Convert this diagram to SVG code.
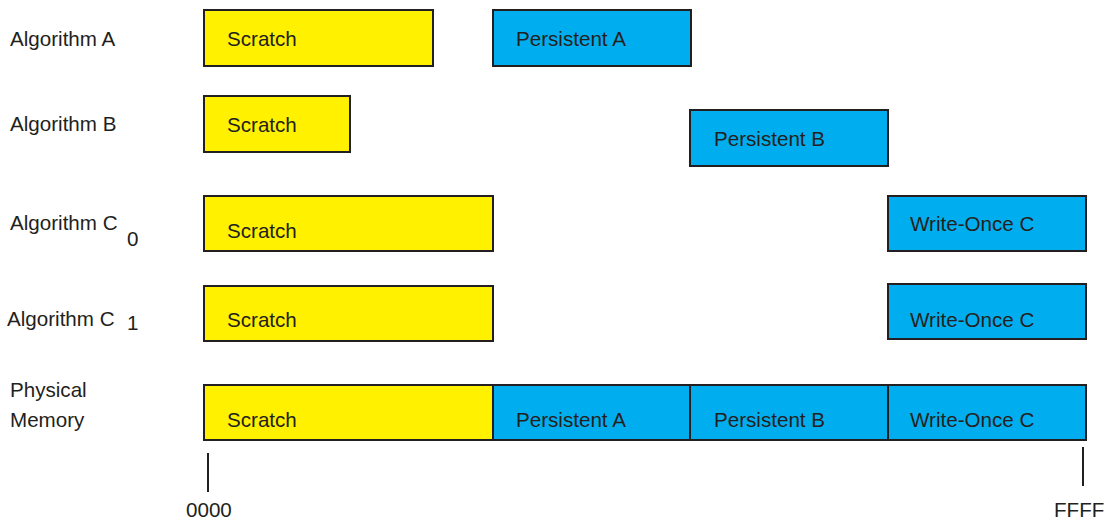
<svg xmlns="http://www.w3.org/2000/svg" width="1105" height="520" viewBox="0 0 1105 520">
<style>
text{font-family:"Liberation Sans",Arial,sans-serif;font-size:20.6px;fill:#231f20}
.y{fill:#fff100;stroke:#231f20;stroke-width:2}
.b{fill:#00aeef;stroke:#231f20;stroke-width:2}
.tick{stroke:#231f20;stroke-width:2}
</style>
<rect width="1105" height="520" fill="#ffffff"/>
<g id="labels">
<text x="10" y="46">Algorithm A</text>
<text x="10" y="131">Algorithm B</text>
<text x="10" y="230">Algorithm C</text>
<text x="127" y="246">0</text>
<text x="7" y="326">Algorithm C</text>
<text x="127" y="330">1</text>
<text x="10" y="397">Physical</text>
<text x="10" y="427">Memory</text>
</g>
<g id="algA-scratch"><rect class="y" x="204" y="10" width="229" height="56"/><text x="227" y="46">Scratch</text></g>
<g id="algA-persistent"><rect class="b" x="493" y="10" width="198" height="56"/><text x="516" y="46">Persistent A</text></g>
<g id="algB-scratch"><rect class="y" x="204" y="96" width="146" height="56"/><text x="227" y="132">Scratch</text></g>
<g id="algB-persistent"><rect class="b" x="690" y="110" width="198" height="56"/><text x="714" y="146">Persistent B</text></g>
<g id="algC0-scratch"><rect class="y" x="204" y="196" width="289" height="55"/><text x="227" y="238">Scratch</text></g>
<g id="algC0-writeonce"><rect class="b" x="888" y="196" width="198" height="55"/><text x="910" y="231">Write-Once C</text></g>
<g id="algC1-scratch"><rect class="y" x="204" y="286" width="289" height="55"/><text x="227" y="327">Scratch</text></g>
<g id="algC1-writeonce"><rect class="b" x="888" y="284" width="198" height="55"/><text x="910" y="327">Write-Once C</text></g>
<g id="phys-scratch"><rect class="y" x="204" y="385" width="289" height="55"/><text x="227" y="427">Scratch</text></g>
<g id="phys-persistentA"><rect class="b" x="493" y="385" width="197" height="55"/><text x="516" y="427">Persistent A</text></g>
<g id="phys-persistentB"><rect class="b" x="690" y="385" width="198" height="55"/><text x="714" y="427">Persistent B</text></g>
<g id="phys-writeonce"><rect class="b" x="888" y="385" width="198" height="55"/><text x="910" y="427">Write-Once C</text></g>
<g id="connectors">
<line class="tick" x1="208" y1="453" x2="208" y2="492"/>
<line class="tick" x1="1083" y1="447" x2="1083" y2="486"/>
</g>
<g id="axis-labels">
<text x="186" y="517">0000</text>
<text x="1054" y="517">FFFF</text>
</g>
</svg>
